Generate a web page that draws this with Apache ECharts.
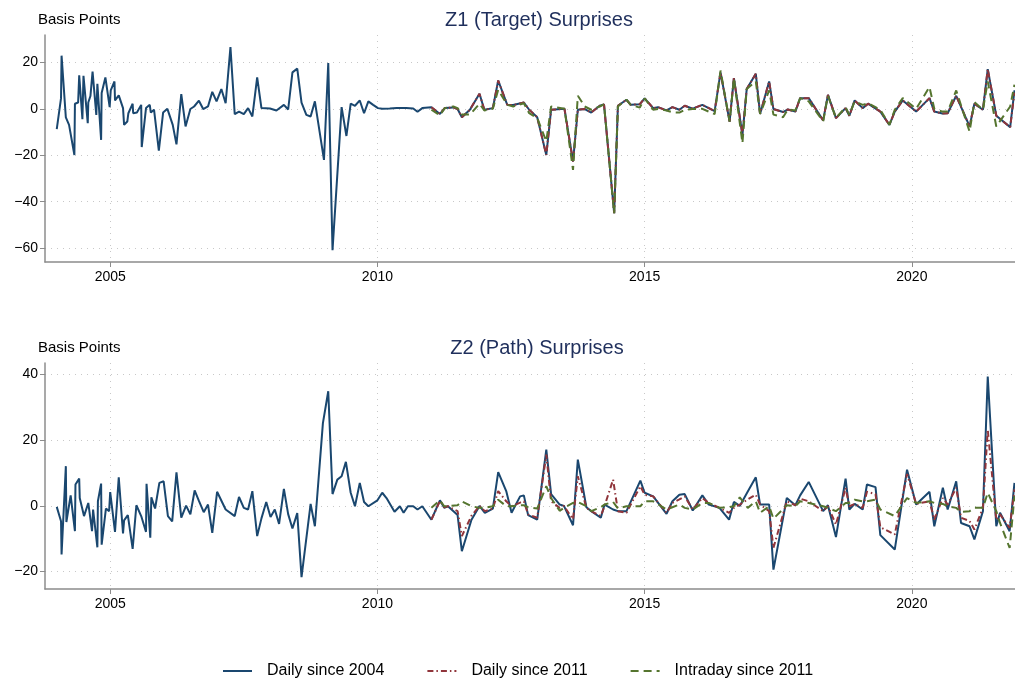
<!DOCTYPE html>
<html>
<head>
<meta charset="utf-8">
<script src="https://cdn.jsdelivr.net/npm/echarts@6/dist/echarts.min.js"></script>
<style>
  html, body { margin: 0; padding: 0; background: #fff; }
  #chart { width: 1015px; height: 682px; }
</style>
</head>
<body>
<div id="chart"></div>
<script>
// tick labels
var yearTicks = [2005, 2010, 2015, 2020];
var z1Ticks = [-60, -40, -20, 0, 20];
var z2Ticks = [-20, 0, 20, 40];
var seriesNames = ["Daily since 2004", "Daily since 2011", "Intraday since 2011"];

// Z1 (target), 2004-2010: only the daily series
var z1DatesEarly = [
  2004.00,2004.08,2004.09,2004.17,2004.23,2004.33,2004.34,2004.40,2004.42,2004.48,2004.50,2004.58,2004.59,2004.63,2004.67,2004.74,2004.76,2004.83,2004.84,2004.91,2004.99,
  2005.01,2005.08,2005.09,2005.16,2005.24,2005.26,2005.32,2005.34,2005.42,2005.43,2005.50,2005.58,2005.59,2005.67,2005.74,2005.76,2005.82,2005.91,2005.99,
  2006.07,2006.17,2006.24,2006.33,2006.41,2006.50,2006.57,2006.66,2006.74,2006.83,2006.91,2006.99,
  2007.08,2007.16,2007.25,2007.33,2007.41,2007.50,2007.58,2007.66,2007.75,2007.83,2007.99,
  2008.11,2008.25,2008.33,2008.41,2008.50,2008.58,2008.67,2008.75,2008.83,
  2009.00,2009.08,2009.16,2009.33,2009.42,2009.50,2009.58,2009.67,2009.75,2009.83,2009.92,
  2010.01,2010.09,2010.23,2010.36,2010.54,2010.67,2010.75,2010.84
];
var z1DailyEarly = [
  -8.8,4.6,22.9,-3.7,-6.9,-19.9,2.2,2.7,14.4,-4.5,14.2,-6.2,2.7,5.5,16,-2.6,10.8,-13.4,6.8,13.5,0.7,
  7.9,11.8,3.6,5.8,0.3,-6.9,-5.5,-1.9,2.2,-1.9,-1.6,1.7,-16.5,0.3,1.7,-1.6,-0.4,-18,-1.6,
  0,-6.9,-15.3,6.3,-7.6,-0.1,1,3.5,-0.1,1,7.3,3.2,
  8.5,2.4,26.6,-2.3,-1.2,-2.3,0.3,-3.3,13.5,0.3,0.1,
  -0.7,1.7,-0.3,15.7,17.3,2.7,-2.6,-3.3,3.2,
  -22,19.7,-60.9,0.7,-11.7,2.2,1.3,3.6,-1.9,3.2,1.7,
  0.3,0,0.1,0.3,0.3,0.1,-1.3,0.3
];

// Z1 (target), 2011-2021: all three series
var z1Dates = [
  2011.01,2011.17,2011.26,2011.42,2011.50,2011.58,2011.73,2011.91,
  2012.00,2012.16,2012.26,2012.43,2012.54,2012.74,2012.84,2012.99,
  2013.16,2013.25,2013.50,2013.66,2013.75,2013.88,
  2014.00,2014.16,2014.24,2014.43,2014.50,2014.66,2014.74,2014.91,
  2015.00,2015.16,2015.25,2015.41,2015.52,2015.65,2015.75,2015.90,
  2016.08,2016.31,2016.42,2016.59,2016.67,2016.83,2016.91,
  2017.08,2017.16,2017.33,2017.41,2017.59,2017.68,2017.82,2017.91,
  2018.07,2018.34,2018.43,2018.58,2018.76,2018.83,2018.93,
  2019.08,2019.18,2019.41,2019.58,2019.68,2019.83,
  2020.08,2020.33,2020.42,2020.57,2020.67,2020.83,
  2021.08,2021.17,2021.33,2021.42,2021.58,2021.84,2021.92
];
var z1Daily04 = [
  0.7,-2.2,0.3,0.6,-0.1,-3.6,-0.4,6.5,
  -0.4,0.3,12.2,1.7,1.6,2.7,-0.4,-3.6,
  -19.9,-0.4,0,-22.7,-0.4,-0.1,
  -1.6,1.3,1.9,-45,1.3,3.9,1.7,2.0,
  4.5,0.3,0.7,-0.7,0.7,-0.4,1.3,0.1,
  1.7,-1.0,15.7,-5.5,13.2,-11.2,8.5,
  15.1,-2.2,11.8,-0.1,-1.4,-0.3,-1.2,4.6,
  4.6,-5,6,-4,0.3,-3,3.6,
  0.3,2.2,-1.2,-6.9,-1.2,3.6,
  -1.2,4.6,-1.2,-2.0,-1.9,5.6,
  -7.6,2.2,-0.4,17.1,-3,-7.9,8
];
var z1Daily11 = [
  0.7,-2.2,0.3,0.6,-0.1,-3.6,-0.4,6.5,
  -0.4,0.3,12.2,1.7,1.6,2.7,-0.4,-3.6,
  -19.9,-0.4,0,-22.7,-0.4,-0.1,
  -1.6,1.3,1.9,-45,1.3,3.9,1.7,2.0,
  4.5,0.3,0.7,-0.7,0.7,-0.4,1.3,0.1,
  1.7,-1.0,15.7,-5.5,13.2,-11.2,8.5,
  15.1,-2.2,11.8,-0.1,-1.4,-0.3,-1.2,4.6,
  4.6,-5,6,-4,0.3,-3,3.6,
  0.3,2.2,-1.2,-6.9,-1.2,3.6,
  -1.2,4.6,-1.2,-2.0,-1.9,5.6,
  -7.6,2.2,-0.4,17.1,-3,-7.9,7
];
var z1Intra11 = [
  -0.4,-2.8,0.3,1.0,0.3,-2.5,-2.5,2.2,
  -0.7,0,8.2,1.7,1.0,2.4,-1.9,-4,
  -14,1.0,0,-26.3,5.6,1.0,
  -0.4,1.0,1.9,-45,1.0,3.9,1.7,0.5,
  4.5,-0.4,-0.1,-0.7,-1.5,-1.6,-0.4,-0.1,
  0,-2.3,16.5,-5.5,13.2,-14.8,8.5,
  11.8,-2.2,7.9,-2.5,-3.6,-0.3,-0.7,4.6,
  3.2,-5.4,5.6,-4,0.7,-2.6,3.2,
  1.7,2.4,-0.4,-6.9,-0.4,4.6,
  0,9.4,0,-1.2,-1.2,7.9,
  -9.8,2.9,-0.4,11.8,-7.6,1.0,10.4
];

// Z2 (path), 2004-2010: only the daily series
var z2DatesEarly = [
  2004.00,2004.08,2004.09,2004.17,2004.18,2004.26,2004.34,2004.35,2004.42,2004.43,2004.51,2004.59,2004.66,2004.68,2004.76,2004.77,2004.83,2004.84,2004.92,2004.98,
  2005.00,2005.09,2005.16,2005.24,2005.26,2005.33,2005.42,2005.49,2005.58,2005.67,2005.68,2005.75,2005.77,2005.84,2005.92,
  2006.00,2006.08,2006.16,2006.24,2006.33,2006.42,2006.50,2006.58,2006.66,2006.75,2006.83,2006.91,
  2007.00,2007.16,2007.33,2007.41,2007.50,2007.58,2007.66,2007.75,2007.83,2007.92,
  2008.00,2008.08,2008.16,2008.25,2008.33,2008.41,2008.50,2008.58,2008.75,2008.83,2008.98,
  2009.08,2009.16,2009.25,2009.33,2009.41,2009.50,2009.58,2009.67,2009.75,2009.83,
  2010.00,2010.09,2010.17,2010.32,2010.42,2010.49,2010.57,2010.67,2010.75,2010.84
];
var z2DailyEarly = [
  -0.3,-4.7,-14.8,12.1,-4.9,3.2,-7.7,6.5,8.3,2.4,-3.1,0.9,-7.7,-1.1,-12.6,1.4,6.8,-11.8,-0.8,-1.6,
  4.2,-7.9,8.7,-8.4,-4.4,-2.8,-13.1,0.2,-3.1,-7.9,6.7,-9.7,2.6,-0.8,7,
  7.5,-3.1,-4.7,10.2,-3.6,0.1,-2.6,4.7,1.5,-1.9,0.4,-8.2,
  4.3,-1.1,-3.1,2.7,-0.6,-1.1,4.5,-9.2,-3.8,1.2,
  -3.4,-1.1,-5.5,5.2,-2.5,-6.9,-2.2,-21.7,0.6,-6.2,25.2,
  34.9,3.6,8,9,13.4,4,-0.1,7,1.2,-0.1,
  1.7,4,2.4,-1.8,-0.1,-2.1,-0.1,-0.1,-1.1,-0.1
];

// Z2 (path), 2011-2021: all three series
var z2Dates = [
  2011.01,2011.17,2011.25,2011.32,2011.50,2011.58,2011.76,2011.91,
  2012.01,2012.16,2012.26,2012.41,2012.51,2012.67,2012.74,2012.82,2012.99,
  2013.16,2013.25,2013.41,2013.49,2013.66,2013.75,2013.91,
  2014.00,2014.18,2014.25,2014.41,2014.50,2014.66,2014.92,
  2015.00,2015.16,2015.41,2015.52,2015.65,2015.75,2015.90,
  2016.08,2016.20,2016.40,2016.58,2016.67,2016.78,2016.93,
  2017.08,2017.16,2017.33,2017.41,2017.66,2017.82,2017.91,
  2018.07,2018.34,2018.43,2018.58,2018.76,2018.83,2018.93,
  2019.08,2019.16,2019.32,2019.41,2019.68,2019.91,
  2020.08,2020.33,2020.42,2020.58,2020.67,2020.83,2020.92,
  2021.08,2021.17,2021.33,2021.42,2021.58,2021.65,2021.83,2021.92
];
var z2Daily04 = [
  -4.2,1.7,-0.6,-0.1,-2.8,-13.8,-4.2,0,
  -2.1,-0.8,10.3,4.5,-2.1,2.9,3.2,-2.8,-4.2,
  17.1,3.6,0.4,0,-5.9,14.1,-0.4,
  -1.6,-3.6,0.4,-1.1,-1.6,-1.6,7.7,
  4,2.9,-2.4,1.4,3.4,3.6,-1.4,
  3.2,0.4,-0.6,-4.2,1.2,0,4.4,
  8.7,0.4,0.4,-19.4,2.4,0.2,3.2,
  7.3,-1.6,0.2,-9.5,8.3,-1.1,0.6,
  -1.1,6.5,5.7,-8.9,-13.3,11,
  0.4,4.3,-6.2,5.5,-1.1,7.5,-5.2,
  -6.2,-10.2,-1.6,39.4,-6.2,-2.1,-7.7,7
];
var z2Daily11 = [
  -4.2,1.5,-0.4,-0.1,-1.6,-9.2,-3.0,0,
  -1.6,-0.8,4.5,1.4,-0.1,1,1.4,-2.6,-3.6,
  15.6,1.4,-0.6,0,-4.1,9,-0.6,
  -1.6,-3.1,0,8,-1.6,-2.1,6,
  3.4,2.9,-2.1,0.9,2,2.9,-1.1,
  2.4,0.9,-0.6,-2.1,-0.6,0.4,2,
  3.4,0.4,-1.6,-12.8,1.4,0.2,2.2,
  1.4,-1.6,-0.1,-5.7,5.5,-0.1,0.6,
  -0.6,4.3,3.6,-6.5,-8.7,9.7,
  0.6,1.4,-4.2,2.4,0.4,5.5,-3.6,
  -4.6,-7.2,-0.6,23.2,-4.2,-2.6,-6.7,5
];
var z2Intra11 = [
  -0.6,1.7,-0.1,-0.1,0.2,1.4,-0.1,-0.6,
  -0.6,-0.1,1.9,-0.1,-0.1,0.2,0.2,-0.4,-0.8,
  6,2.4,-1.5,-0.6,0.9,1.2,-0.1,
  -1.6,-0.4,0.4,1.2,-0.8,-0.1,-0.1,
  1.4,1.4,-1.1,-0.4,0.4,-0.6,-1.1,
  0.9,0.9,-0.6,-0.4,-0.1,2.6,-0.6,
  1.4,-2.1,-0.1,-3.9,0.2,-0.1,1.4,
  0.9,-0.1,-0.6,-1.6,0.9,0.9,1.9,
  1.4,1.4,1.9,-1.1,-3.1,2.4,
  0.9,1.4,0.9,0.6,-0.1,-0.6,-1.8,
  -1.6,-0.6,-0.6,4,-1.6,-5.2,-12.8,3
];

// 颜色 (Stata s2color)
var blue = "#1a476f", red = "#90353b", green = "#55752f";
var font = "Liberation Sans, Arial, sans-serif";

function pairs(dates, vals) {
  return dates.map(function (d, i) { return [d, vals[i]]; });
}
function minusSign(v) { return String(v).replace("-", "\u2212"); }

function xAxisFor(grid) {
  return {
    type: "value", gridIndex: grid, min: 2003.78, max: 2021.93,
    axisLine: { show: true, onZero: false, lineStyle: { color: "#8c8c8c", width: 1.5 } },
    axisTick: { show: true, length: 5, customValues: yearTicks, lineStyle: { color: "#8c8c8c" } },
    axisLabel: { customValues: yearTicks, color: "#000", fontSize: 14, fontFamily: font, margin: 8,
      formatter: function (v) { return String(v); } },
    splitLine: { show: true, lineStyle: { color: "#c8c8c8", type: [1, 5] } }
  };
}
function yAxisFor(grid, min, max, ticks) {
  return {
    type: "value", gridIndex: grid, min: min, max: max,
    axisLine: { show: true, onZero: false, lineStyle: { color: "#8c8c8c", width: 1.5 } },
    axisTick: { show: true, length: 5, customValues: ticks, lineStyle: { color: "#8c8c8c" } },
    axisLabel: { customValues: ticks, color: "#000", fontSize: 14, fontFamily: font, margin: 7, formatter: minusSign },
    splitLine: { show: true, lineStyle: { color: "#c8c8c8", type: [1, 5] } }
  };
}
function lineSeries(name, grid, data, color, dash) {
  return {
    name: name, type: "line", xAxisIndex: grid, yAxisIndex: grid,
    data: data, showSymbol: false, symbol: "none",
    lineStyle: { color: color, width: 2, type: dash },
    itemStyle: { color: color }
  };
}

var myChart = echarts.init(document.getElementById("chart"));
var option = {
  animation: false,
  backgroundColor: "#fff",
  title: [
    { text: "Z1 (Target) Surprises", left: 534, textAlign: "center", top: 5,
      textStyle: { color: "#1f2f5c", fontSize: 20, fontWeight: "normal", fontFamily: font } },
    { text: "Basis Points", left: 33, top: 7,
      textStyle: { color: "#000", fontSize: 15, fontWeight: "normal", fontFamily: font } },
    { text: "Z2 (Path) Surprises", left: 532, textAlign: "center", top: 333,
      textStyle: { color: "#1f2f5c", fontSize: 20, fontWeight: "normal", fontFamily: font } },
    { text: "Basis Points", left: 33, top: 335,
      textStyle: { color: "#000", fontSize: 15, fontWeight: "normal", fontFamily: font } }
  ],
  legend: {
    data: seriesNames,
    left: 217, top: 658,
    itemWidth: 29, itemHeight: 14, itemGap: 42,
    itemStyle: { opacity: 0 },
    textStyle: { color: "#000", fontSize: 16, fontFamily: font, padding: [0, 0, 0, 10] }
  },
  grid: [
    { left: 45, right: 0, top: 35, height: 227 },
    { left: 45, right: 0, top: 363, height: 226 }
  ],
  xAxis: [xAxisFor(0), xAxisFor(1)],
  yAxis: [yAxisFor(0, -66, 31.8, z1Ticks), yAxisFor(1, -25.3, 43.5, z2Ticks)],
  series: [
    lineSeries(seriesNames[0], 0, pairs(z1DatesEarly, z1DailyEarly).concat(pairs(z1Dates, z1Daily04)), blue, "solid"),
    lineSeries(seriesNames[1], 0, pairs(z1Dates, z1Daily11), red, [6, 3, 1.5, 3]),
    lineSeries(seriesNames[2], 0, pairs(z1Dates, z1Intra11), green, [8, 5]),
    lineSeries(seriesNames[0], 1, pairs(z2DatesEarly, z2DailyEarly).concat(pairs(z2Dates, z2Daily04)), blue, "solid"),
    lineSeries(seriesNames[1], 1, pairs(z2Dates, z2Daily11), red, [6, 3, 1.5, 3]),
    lineSeries(seriesNames[2], 1, pairs(z2Dates, z2Intra11), green, [8, 5])
  ]
};
myChart.setOption(option);
</script>
</body>
</html>
